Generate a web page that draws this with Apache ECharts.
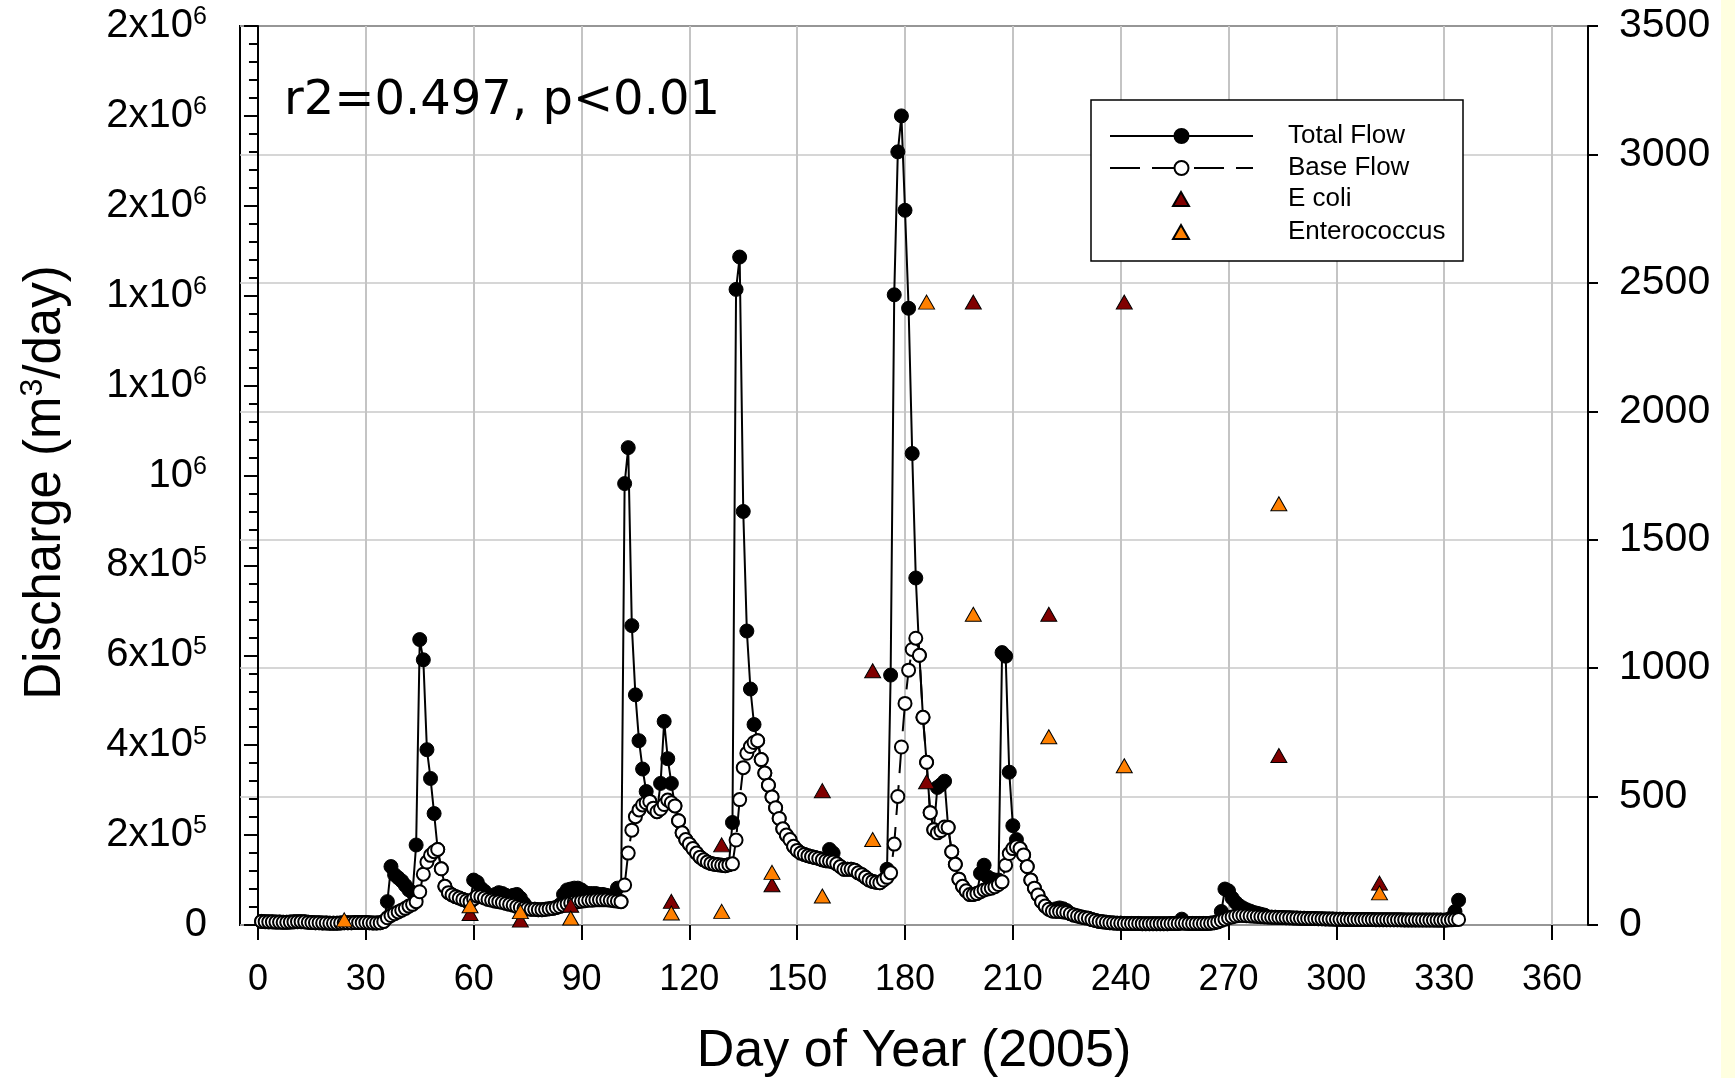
<!DOCTYPE html>
<html><head><meta charset="utf-8">
<script src="https://cdn.jsdelivr.net/npm/echarts@6.0.0/dist/echarts.min.js"></script>
<style>html,body{margin:0;padding:0;background:#fff}#chart{width:1735px;height:1078px}</style>
</head><body><div id="chart"></div>
<script>
// ---- data (discharge in m3/day, one value per day starting at firstDay) ----
const firstDay = 1;
const baseFlow = [
  8000, 7500, 7000, 7000, 6500, 6500, 6000, 6000, 6500, 7000,
  7500, 7500, 7000, 6000, 5500, 5000, 5000, 4500, 4500, 4000,
  4000, 4000, 4500, 5000, 5000, 5000, 5500, 5500, 5500, 5500,
  5000, 4500, 4500, 5000, 8000, 16000, 21000, 25000, 29000, 33000,
  37000, 42000, 46000, 52000, 74000, 113000, 140000, 155000, 163000, 168000,
  125000, 86000, 72000, 67000, 63000, 60000, 57000, 54000, 52000, 58000,
  64000, 63000, 60000, 57000, 55000, 53000, 52000, 50000, 48000, 46000,
  44000, 41000, 39000, 37000, 36000, 35000, 35000, 34000, 34000, 35000,
  36000, 37000, 39000, 41000, 44000, 47000, 49000, 51000, 52000, 53000,
  54000, 55000, 55000, 56000, 56000, 56000, 56000, 55000, 54000, 53000,
  52000, 89000, 160000, 211000, 241000, 256000, 267000, 272000, 275000, 260000,
  252000, 258000, 268000, 278000, 272000, 265000, 232000, 205000, 190000, 180000,
  170000, 160000, 151000, 145000, 140000, 137000, 135000, 134000, 133000, 132000,
  134000, 136000, 189000, 279000, 350000, 382000, 397000, 406000, 410000, 368000,
  338000, 311000, 285000, 261000, 237000, 214000, 200000, 190000, 175000, 166000,
  160000, 157000, 154000, 152000, 150000, 148000, 145000, 143000, 142000, 140000,
  136000, 130000, 124000, 124000, 124000, 122000, 116000, 112000, 106000, 100000,
  97000, 95000, 94000, 100000, 106000, 116000, 180000, 286000, 396000, 493000,
  567000, 613000, 638000, 600000, 462000, 362000, 250000, 212000, 205000, 210000,
  218000, 217000, 163000, 135000, 102000, 86000, 76000, 68000, 68000, 70000,
  74000, 78000, 80000, 82000, 85000, 90000, 96000, 133000, 159000, 170000,
  174000, 170000, 156000, 130000, 100000, 82000, 67000, 52000, 42000, 35000,
  31000, 30000, 30000, 29000, 28000, 25000, 22000, 20000, 18000, 16000,
  15000, 12000, 10000, 8000, 7000, 6000, 5000, 4500, 4000, 4000,
  3500, 3500, 3500, 3500, 3500, 3000, 3000, 3000, 3000, 3000,
  3000, 3000, 3000, 3500, 3500, 3500, 4000, 4000, 3500, 3500,
  3500, 3500, 3500, 3500, 4000, 5000, 7000, 10000, 13000, 16000,
  18000, 20000, 21000, 21000, 20500, 20000, 19500, 19000, 18500, 18000,
  17700, 17400, 17100, 16800, 16500, 16200, 15900, 15600, 15300, 15000,
  14800, 14600, 14400, 14200, 14000, 13800, 13600, 13400, 13100, 12800,
  12700, 12600, 12500, 12400, 12300, 12200, 12200, 12100, 12100, 12000,
  11900, 11900, 11800, 11800, 11700, 11600, 11600, 11500, 11400, 11300,
  11300, 11200, 11200, 11100, 11100, 11000, 11000, 10900, 10900, 10800,
  11000, 11500, 12000, 12500
];
const totalFlow = [
  8000, 7500, 7000, 7000, 6500, 6500, 6000, 6000, 6500, 7000,
  7500, 7500, 7000, 6000, 5500, 5000, 5000, 4500, 4500, 4000,
  4000, 4000, 4500, 5000, 5000, 5000, 5500, 5500, 5500, 5500,
  5000, 4500, 4500, 5000, 8000, 52000, 130000, 112000, 105000, 98000,
  88000, 78000, 72000, 178000, 635000, 590000, 390000, 326000, 248000, 168000,
  125000, 86000, 72000, 67000, 63000, 60000, 57000, 54000, 52000, 100000,
  95000, 82000, 75000, 62000, 60000, 68000, 72000, 70000, 66000, 62000,
  66000, 68000, 60000, 48000, 38000, 35000, 35000, 34000, 34000, 35000,
  36000, 37000, 39000, 45000, 68000, 78000, 80000, 82000, 82000, 78000,
  72000, 70000, 70000, 70000, 68000, 68000, 66000, 64000, 62000, 82000,
  52000, 982000, 1062000, 666000, 512000, 410000, 347000, 297000, 275000, 260000,
  252000, 315000, 453000, 370000, 315000, 265000, 232000, 205000, 190000, 180000,
  170000, 160000, 151000, 145000, 140000, 137000, 135000, 134000, 133000, 132000,
  134000, 228000, 1414000, 1486000, 920000, 654000, 525000, 446000, 410000, 368000,
  338000, 311000, 285000, 261000, 237000, 214000, 200000, 190000, 175000, 166000,
  160000, 157000, 154000, 152000, 150000, 148000, 145000, 143000, 168000, 160000,
  136000, 130000, 124000, 124000, 124000, 122000, 116000, 112000, 106000, 100000,
  97000, 95000, 94000, 100000, 124000, 556000, 1402000, 1720000, 1800000, 1590000,
  1372000, 1049000, 772000, 600000, 462000, 362000, 250000, 212000, 306000, 312000,
  320000, 217000, 163000, 135000, 102000, 86000, 76000, 68000, 68000, 70000,
  115000, 133000, 107000, 102000, 100000, 100000, 606000, 598000, 340000, 221000,
  190000, 170000, 156000, 130000, 100000, 82000, 67000, 52000, 42000, 35000,
  31000, 36000, 38000, 36000, 32000, 25000, 22000, 20000, 18000, 16000,
  15000, 12000, 10000, 8000, 7000, 6000, 5000, 4500, 4000, 4000,
  3500, 3500, 3500, 3500, 3500, 3000, 3000, 3000, 3000, 3000,
  3000, 3000, 3000, 3500, 3500, 3500, 13000, 4000, 3500, 3500,
  3500, 3500, 3500, 3500, 4000, 5000, 7000, 30000, 80000, 76000,
  60000, 50000, 43000, 38000, 34000, 31000, 28000, 26000, 24000, 22000,
  17700, 17400, 17100, 16800, 16500, 16200, 15900, 15600, 15300, 15000,
  14800, 14600, 14400, 14200, 14000, 13800, 13600, 13400, 13100, 12800,
  12700, 12600, 12500, 12400, 12300, 12200, 12200, 12100, 12100, 12000,
  11900, 11900, 11800, 11800, 11700, 11600, 11600, 11500, 11400, 11300,
  11300, 11200, 11200, 11100, 11100, 11000, 11000, 10900, 10900, 10800,
  12000, 16000, 30000, 55000
];
// bacteria samples (right axis)
const ecoliDays   = [59, 73, 87, 115, 129, 143, 157, 171, 186, 199, 220, 241, 284, 312];
const ecoliValues = [45, 19, 77, 92, 312, 157, 523, 990, 558, 2425, 1210, 2425, 660, 163];
const enteroDays   = [24, 59, 73, 87, 115, 129, 143, 157, 171, 186, 199, 220, 241, 284, 312];
const enteroValues = [20, 75, 52, 27, 47, 53, 205, 113, 333, 2425, 1210, 733, 620, 1640, 125];
// tick labels
const leftTickLabels = ['0', '2x10^5', '4x10^5', '6x10^5', '8x10^5', '10^6', '1x10^6', '1x10^6', '2x10^6', '2x10^6', '2x10^6'];
const rightTickLabels = ['0', '500', '1000', '1500', '2000', '2500', '3000', '3500'];
const seriesNames = ['Total Flow', 'Base Flow', 'E coli', 'Enterococcus'];
const xTitle = 'Day of Year (2005)';
const statText = 'r2=0.497, p<0.01';

// ---- build ----
const F = 'Liberation Sans';
const totalData = totalFlow.map((v, i) => [firstDay + i, v]);
const baseData = baseFlow.map((v, i) => [firstDay + i, v]);
const ecoliData = ecoliDays.map((d, i) => [d, ecoliValues[i]]);
const enteroData = enteroDays.map((d, i) => [d, enteroValues[i]]);

function supLabel(s) {
  const parts = s.split('^');
  return parts.length > 1 ? '{b|' + parts[0] + '}{s|' + parts[1] + '}' : '{b|' + parts[0] + '}';
}

const chart = echarts.init(document.getElementById('chart'), null, {renderer: 'canvas'});
const option = {
  animation: false,
  backgroundColor: '#ffffff',
  grid: [
    {left: 240, right: 147, top: 26, bottom: 153, show: true, borderColor: '#000', borderWidth: 2, backgroundColor: 'transparent', outerBoundsMode: 'none'},
    {left: 258, right: 183, top: 26, bottom: 153, outerBoundsMode: 'none'}
  ],
  xAxis: [
    {type: 'value', gridIndex: 0, min: -5, max: 370,
     axisLine: {show: false}, axisTick: {show: false}, axisLabel: {show: false}, splitLine: {show: false},
     name: xTitle, nameLocation: 'middle', nameGap: 101,
     nameTextStyle: {fontFamily: F, fontSize: 52, color: '#000'}},
    {type: 'value', gridIndex: 1, min: 0, max: 360, interval: 30,
     axisLine: {show: false},
     axisTick: {show: true, length: 15, lineStyle: {color: '#000', width: 2}},
     axisLabel: {show: true, margin: 37, fontFamily: F, fontSize: 36, color: '#000'},
     splitLine: {show: true, lineStyle: {color: '#c4c4c4', width: 2}}}
  ],
  yAxis: [
    {type: 'value', gridIndex: 0, position: 'left', min: 0, max: 2000000, interval: 200000,
     axisLine: {show: true, lineStyle: {color: '#000', width: 2}},
     axisTick: {show: true, length: 14, lineStyle: {color: '#000', width: 2}},
     minorTick: {show: true, splitNumber: 5, length: 9, lineStyle: {color: '#000', width: 2}},
     splitLine: {show: false},
     axisLabel: {margin: 33,
       formatter: v => supLabel(leftTickLabels[Math.round(v / 200000)]),
       rich: {
         b: {fontFamily: F, fontSize: 40, color: '#000', lineHeight: 42},
         s: {fontFamily: F, fontSize: 25, color: '#000', lineHeight: 29, verticalAlign: 'top'}
       }},
     name: '{b|Discharge (m}{s|3}{b|/day)}', nameLocation: 'middle', nameGap: 166,
     nameTextStyle: {padding: [0, 14, 0, 0], rich: {
       b: {fontFamily: F, fontSize: 51, color: '#000', lineHeight: 57},
       s: {fontFamily: F, fontSize: 32, color: '#000', lineHeight: 38, verticalAlign: 'top'}
     }}},
    {type: 'value', gridIndex: 0, position: 'right', min: 0, max: 3500, interval: 500,
     axisLine: {show: true, lineStyle: {color: '#000', width: 2}},
     axisTick: {show: true, length: 10, lineStyle: {color: '#000', width: 2}},
     axisLabel: {margin: 31, fontFamily: F, fontSize: 41, color: '#000',
       formatter: v => rightTickLabels[Math.round(v / 500)]},
     splitLine: {show: true, lineStyle: {color: '#c8c8c8', width: 1.5}}},
    {type: 'value', gridIndex: 1, show: false, min: 0, max: 1, splitLine: {show: false}}
  ],
  legend: [
    {data: [seriesNames[0], seriesNames[1]], orient: 'vertical', left: 1109, top: 123, padding: 0,
     itemWidth: 143, itemHeight: 17.5, itemGap: 6, selectedMode: false,
     textStyle: {fontFamily: F, fontSize: 26, color: '#000', padding: [0, 0, 0, 30]}},
    {data: [{name: seriesNames[2], icon: 'triangle'}, {name: seriesNames[3], icon: 'triangle'}],
     orient: 'vertical', left: 1172, top: 186, padding: 0,
     itemWidth: 16, itemHeight: 14, itemGap: 7, selectedMode: false,
     textStyle: {fontFamily: F, fontSize: 26, color: '#000', padding: [0, 0, 0, 94]}}
  ],
  graphic: [
    {type: 'rect', z: 3, shape: {x: 1091, y: 100, width: 372, height: 161},
     style: {fill: '#fff', stroke: '#000', lineWidth: 1.5}},
    {type: 'text', z: 5, x: 284, y: 102,
     style: {text: statText, fontFamily: 'DejaVu Sans', fontSize: 48, fill: '#000', align: 'left', verticalAlign: 'middle'}},
    {type: 'rect', z: 5, shape: {x: 1721, y: 0, width: 14, height: 1078}, style: {fill: '#FFFFE0'}}
  ],
  series: [
    {name: seriesNames[0], type: 'line', xAxisIndex: 0, yAxisIndex: 0, data: totalData, z: 2,
     symbol: 'circle', symbolSize: 14, showAllSymbol: true,
     lineStyle: {color: '#000', width: 2},
     itemStyle: {color: '#000', borderColor: '#000', borderWidth: 1},
     emphasis: {disabled: true}},
    {name: seriesNames[1], type: 'line', xAxisIndex: 0, yAxisIndex: 0, data: baseData, z: 3,
     symbol: 'circle', symbolSize: 13, showAllSymbol: true,
     lineStyle: {color: '#000', width: 2, type: [30, 12]},
     itemStyle: {color: '#fff', borderColor: '#000', borderWidth: 2},
     emphasis: {disabled: true}},
    {name: seriesNames[2], type: 'scatter', xAxisIndex: 0, yAxisIndex: 1, data: ecoliData, z: 4,
     symbol: 'triangle', symbolSize: [16, 14],
     itemStyle: {color: '#800000', borderColor: '#000', borderWidth: 1, opacity: 1},
     emphasis: {disabled: true}},
    {name: seriesNames[3], type: 'scatter', xAxisIndex: 0, yAxisIndex: 1, data: enteroData, z: 4,
     symbol: 'triangle', symbolSize: [16, 14],
     itemStyle: {color: '#FF8000', borderColor: '#000', borderWidth: 1, opacity: 1},
     emphasis: {disabled: true}}
  ]
};
chart.setOption(option);
</script></body></html>
